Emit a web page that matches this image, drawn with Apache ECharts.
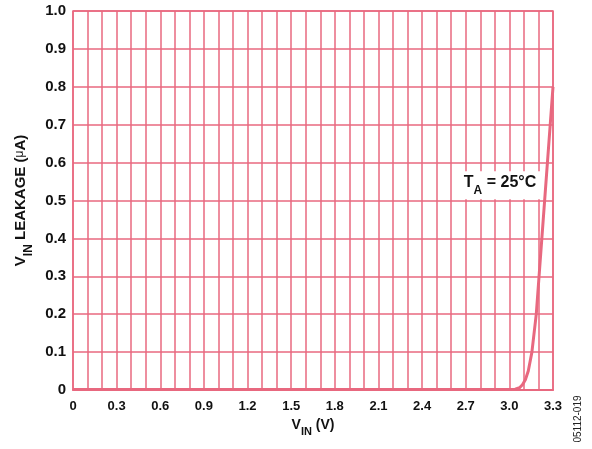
<!DOCTYPE html>
<html>
<head>
<meta charset="utf-8">
<script src="https://cdn.jsdelivr.net/npm/echarts@6/dist/echarts.min.js"></script>
<style>
html,body{margin:0;padding:0;background:#fff;}
#c{width:592px;height:449px;}
</style>
</head>
<body>
<div id="c"></div>
<script>
// data
var vIn =     [0,     1.0,   2.0,   2.9,   3.0,   3.04,  3.07,  3.09,  3.11,  3.13,  3.155, 3.185, 3.3];
var leakage = [0.001, 0.001, 0.001, 0.001, 0.001, 0.002, 0.006, 0.014, 0.027, 0.05,  0.1,   0.2,   0.8];
var xTickLabels = ['0','0.3','0.6','0.9','1.2','1.5','1.8','2.1','2.4','2.7','3.0','3.3'];
var yTickLabels = ['0','0.1','0.2','0.3','0.4','0.5','0.6','0.7','0.8','0.9','1.0'];
var annotation = {x: 2.936, y: 0.54};

var pink = '#e8687f';
var font = 'Liberation Sans, Arial, Helvetica, sans-serif';

function subRich(size, subSize) {
  return {
    a: {fontFamily: font, fontWeight: 'bold', fontSize: size, color: '#111', lineHeight: size + 2, verticalAlign: 'top'},
    b: {fontFamily: font, fontWeight: 'bold', fontSize: subSize, color: '#111', lineHeight: size + 6, verticalAlign: 'bottom'},
    c: {fontFamily: font, fontWeight: 'normal', fontSize: subSize, color: '#111', lineHeight: size + 2, verticalAlign: 'top'}
  };
}

var chart = echarts.init(document.getElementById('c'));
var pts = vIn.map(function(v,i){return [v, leakage[i]];});

chart.setOption({
  animation: false,
  grid: {left: 73, right: 39, top: 11, bottom: 59, show: true, borderColor: pink, borderWidth: 1.5},
  xAxis: {
    type: 'value', min: 0, max: 3.3, interval: 0.1,
    axisLine: {show: true, lineStyle: {color: pink, width: 2}},
    axisTick: {show: false},
    splitLine: {show: true, lineStyle: {color: pink, width: 1.5}},
    axisLabel: {
      margin: 10, color: '#111', fontFamily: font, fontWeight: 'bold', fontSize: 13,
      showMinLabel: true, showMaxLabel: true,
      formatter: function(v){
        var k = Math.round(v*10);
        if (k % 3 !== 0) return '';
        return xTickLabels[k/3];
      }
    },
    name: '{a|V}{b|IN}{a| (V)}',
    nameLocation: 'middle', nameGap: 22,
    nameTextStyle: {rich: subRich(14, 11)}
  },
  yAxis: {
    type: 'value', min: 0, max: 1, interval: 0.1,
    axisLine: {show: false},
    axisTick: {show: false},
    splitLine: {show: true, lineStyle: {color: pink, width: 1.5}},
    axisLabel: {
      margin: 7, color: '#111', fontFamily: font, fontWeight: 'bold', fontSize: 15,
      formatter: function(v){ return yTickLabels[Math.round(v*10)]; }
    },
    name: '{a|V}{b|IN}{a| LEAKAGE (}{c|μ}{a|A)}',
    nameLocation: 'middle', nameGap: 27, nameRotate: 90,
    nameTextStyle: {rich: subRich(15, 12)}
  },
  series: [{
    type: 'line',
    data: pts,
    smooth: false,
    showSymbol: false,
    symbol: 'none',
    lineStyle: {color: pink, width: 3, join: 'round'},
    markPoint: {
      symbol: 'rect', symbolSize: 0,
      data: [{coord: [annotation.x, annotation.y]}],
      label: {
        show: true, position: 'inside',
        backgroundColor: '#fff', padding: [3,6,3,6],
        formatter: '{a|T}{b|A}{a| = 25°C}',
        rich: subRich(16, 12)
      }
    }
  }],
  graphic: [{
    type: 'text', x: 578, y: 419, rotation: Math.PI/2,
    style: {text: '05112-019', font: '10px ' + font, fill: '#222', align: 'center', verticalAlign: 'middle'}
  }]
});
</script>
</body>
</html>
